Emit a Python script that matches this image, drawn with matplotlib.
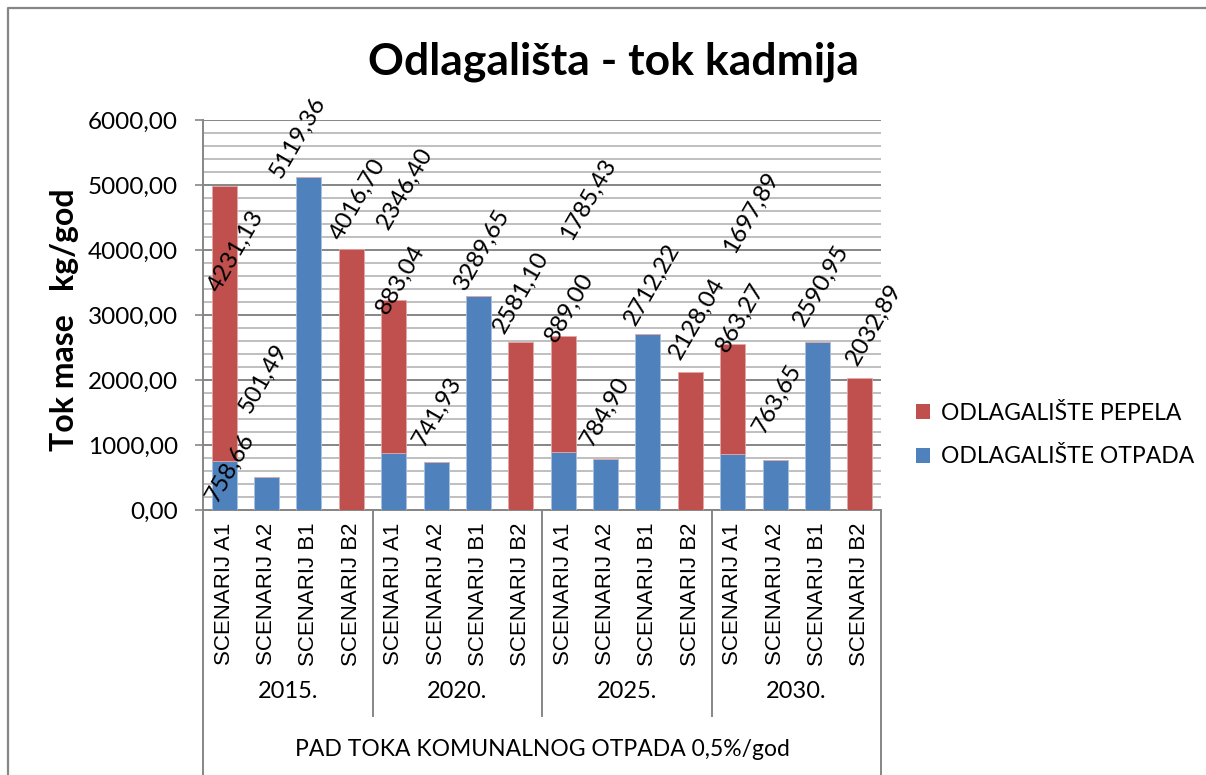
import matplotlib
matplotlib.use("Agg")
import matplotlib.pyplot as plt
import matplotlib.transforms as mtransforms
from matplotlib.lines import Line2D
from matplotlib.patches import Patch
from matplotlib.ticker import MultipleLocator, FuncFormatter

# ---- data -------------------------------------------------------------
years = ["2015.", "2020.", "2025.", "2030."]
scenarios = ["SCENARIJ A1", "SCENARIJ A2", "SCENARIJ B1", "SCENARIJ B2"]

# kg/god, one entry per (year, scenario); 0 = no deposit of that kind
otpada = [758.66, 501.49, 5119.36, 0,
          883.04, 741.93, 3289.65, 0,
          889.00, 784.90, 2712.22, 0,
          863.27, 763.65, 2590.95, 0]
pepela = [4231.13, 0, 0, 4016.70,
          2346.40, 0, 0, 2581.10,
          1785.43, 0, 0, 2128.04,
          1697.89, 0, 0, 2032.89]

series_names = ["ODLAGALIŠTE PEPELA", "ODLAGALIŠTE OTPADA"]
group_title = "PAD TOKA KOMUNALNOG OTPADA 0,5%/god"

# ---- label placement (pixel offsets from the top of each segment) -----
otpada_off = [(6, -7), (-3, 99), (-11, 40), None,
              (7, 173), (1, 50), (4, 47), None,
              (6, 145), (0, 48), (4, 50), None,
              (8, 136), (2, 62), (4, 56), None]
pepela_off = [(12, -65), None, None, (7, 50),
              (11, 112), None, None, (0, 50),
              (25, 137), None, None, (7, 53),
              (18, 131), None, None, (14, 54)]

RED = "#C0504D"
BLUE = "#4F81BD"
GRID_MAJOR = "#868686"
GRID_MINOR = "#BFBFBF"
FONT = "Lato"

W, H = 1206, 775
fig = plt.figure(figsize=(W / 100, H / 100), dpi=100)
fig.patch.set_facecolor("white")


def fx(px):
    return px / W


def fy(py):
    return 1 - py / H


ax = fig.add_axes([fx(203), fy(510), fx(881) - fx(203), fy(120) - fy(510)])

n = len(otpada)
x = list(range(n))
bw = 0.59
ax.bar(x, otpada, width=bw, color=BLUE, edgecolor="#A9C1E0", linewidth=0.6, zorder=3)
ax.bar(x, pepela, width=bw, bottom=otpada, color=RED, edgecolor="#E3A8A6",
       linewidth=0.6, zorder=3)

ax.set_xlim(-0.5, n - 0.5)
ax.set_ylim(0, 6000)
ax.yaxis.set_major_locator(MultipleLocator(1000))
ax.yaxis.set_minor_locator(MultipleLocator(200))
ax.yaxis.set_major_formatter(FuncFormatter(lambda v, p: f"{v:.2f}".replace(".", ",")))
ax.grid(True, which="minor", axis="y", color=GRID_MINOR, linewidth=1.4, zorder=0)
ax.grid(True, which="major", axis="y", color=GRID_MAJOR, linewidth=1.4, zorder=1)
ax.tick_params(axis="y", which="major", length=6, width=1.2, color=GRID_MAJOR,
               pad=12, labelsize=17.5)
ax.tick_params(axis="y", which="minor", length=0)
for lab in ax.get_yticklabels():
    lab.set_fontfamily(FONT)

for s in ["top", "right"]:
    ax.spines[s].set_visible(False)
for s in ["left", "bottom"]:
    ax.spines[s].set_color(GRID_MAJOR)
    ax.spines[s].set_linewidth(1.4)

# scenario labels under each bar
ax.set_xticks(x)
ax.set_xticklabels(scenarios * len(years), rotation=90, fontsize=16,
                   fontfamily="Liberation Sans", va="top", ha="center")
ax.tick_params(axis="x", length=0, pad=9)

# data labels
def put_label(xi, top, val, off):
    if off is None or val == 0:
        return
    ax.annotate(f"{val:.2f}".replace(".", ","), xy=(xi, top), xytext=off,
                textcoords="offset pixels", rotation=60, rotation_mode="anchor",
                ha="center", va="center", fontsize=17.5, fontfamily=FONT,
                color="black", zorder=5, annotation_clip=False)


for i in range(n):
    put_label(i, otpada[i], otpada[i], otpada_off[i])
    put_label(i, otpada[i] + pepela[i], pepela[i], pepela_off[i])

# category axis separators and year labels
blend = mtransforms.blended_transform_factory(ax.transData, fig.transFigure)
per = len(scenarios)
for g in range(len(years) + 1):
    xb = g * per - 0.5
    y_end = fy(775) if g in (0, len(years)) else fy(716)
    ax.add_line(Line2D([xb, xb], [fy(510), y_end], transform=blend,
                       color=GRID_MAJOR, linewidth=1.4, clip_on=False))
for g, yr in enumerate(years):
    ax.text(g * per + (per - 1) / 2, fy(691), yr, transform=blend, ha="center",
            va="center", fontsize=17, fontfamily=FONT)
ax.text((n - 1) / 2, fy(750), group_title, transform=blend, ha="center",
        va="center", fontsize=16.5, fontfamily=FONT)

# titles
fig.text(fx(613), fy(62), "Odlagališta - tok kadmija", ha="center", va="center",
         fontsize=32, fontweight="bold", fontfamily=FONT)
fig.text(fx(65), fy(320), "Tok mase   kg/god", rotation=90, ha="center",
         va="center", fontsize=23, fontweight="bold", fontfamily=FONT)

# legend
handles = [Patch(facecolor=RED), Patch(facecolor=BLUE)]
fig.legend(handles, series_names, loc="center left",
           bbox_to_anchor=(fx(916), fy(435)), frameon=False,
           prop={"family": FONT, "size": 16.5}, handlelength=0.6,
           handleheight=0.6, handletextpad=0.5, labelspacing=1.0,
           borderpad=0, borderaxespad=0)

# chart frame
fig.add_artist(Line2D([fx(8), fx(8), 1.0], [0.0, fy(8), fy(8)],
                      transform=fig.transFigure, color=GRID_MAJOR, linewidth=1.6))

fig.savefig("out.png", dpi=100, facecolor="white")
